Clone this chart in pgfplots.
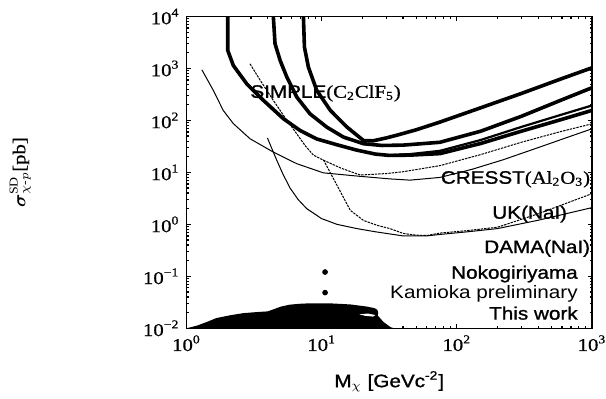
\documentclass[border=0pt]{standalone}
\usepackage{fontspec}
\setmainfont{Liberation Serif}[FakeStretch=1.15]
\setsansfont{Liberation Sans}[FakeStretch=1.15]
\newfontfamily\sbf{Liberation Sans}[FakeStretch=1.15, FakeBold=1.2]
\newfontfamily\rbf{Liberation Serif}[FakeStretch=1.15, FakeBold=0.8]
\usepackage{amsmath}
\usepackage{pgfplots}
\pgfplotsset{compat=1.18}
\begin{document}
\begin{tikzpicture}
\path[use as bounding box] (-93.25pt,-34.85pt) rectangle (209.75pt,164.15pt);
\begin{axis}[
  at={(0pt,0pt)}, anchor=south west,
  scale only axis, width=202.75pt, height=155.9pt,
  xmode=log, ymode=log, xmin=1, xmax=1000, ymin=0.01, ymax=10000,
  tick align=inside, major tick length=2.2pt, minor tick length=1.1pt,
  axis line style={line width=0.8pt},
  every tick/.style={line width=0.6pt, black},
  xtick={1,10,100,1000},
  xticklabels={10\textsuperscript{0},10\textsuperscript{1},10\textsuperscript{2},10\textsuperscript{3}},
  ytick={0.01,0.1,1,10,100,1000,10000},
  yticklabels={10\textsuperscript{−2},10\textsuperscript{−1},10\textsuperscript{0},10\textsuperscript{1},10\textsuperscript{2},10\textsuperscript{3},10\textsuperscript{4}},
  ticklabel style={font=\fontsize{9}{10}\selectfont\rbf},
  xlabel={\sbf M$_\chi$ [GeVc\textsuperscript{-2}]},
  ylabel={$\boldsymbol{\sigma}^{\mathrm{SD}}_{\chi\text{-}p}${\rbf [pb]}},
  label style={font=\fontsize{9}{10}\selectfont},
  xlabel style={at={(axis description cs:0.5,-0.17)}, anchor=center},
  ylabel style={at={(axis description cs:-0.41,0.5)}, anchor=center},
  clip=true,
]
% thin solid curve
\addplot[black, line width=0.5pt] coordinates {
(1.3,943) (1.58,378) (1.87,156) (2.22,87) (2.95,44.5) (4.39,24.6) (6.55,14.7)
(10.3,9.8) (19.3,8.4) (32,7.5) (45,7.1) (75,8.0) (130,11.5) (220,17.5) (400,30) (700,50) (1000,69)};
% thin dotted curve
\addplot[black, line width=0.5pt, dash pattern=on 1.2pt off 0.5pt] coordinates {
(2.95,1230) (3.5,600) (4.39,243) (5.4,110) (6.55,55) (7.6,32) (8.7,21.5) (10.3,17.2)
(14,12) (19.3,8.9) (30,9.5) (40,10.3) (75,13.5) (150,22) (300,38) (600,62) (1000,86)};
% UK (NaI) dotted
\addplot[black, line width=0.5pt, dash pattern=on 1.2pt off 0.5pt] coordinates {
(10.3,17.5) (16.3,1.86) (20.4,1.19) (26,0.95) (32,0.83) (40,0.67) (50,0.62) (60,0.61)
(75,0.68) (120,0.76) (200,0.88) (400,1.6) (1000,3.9)};
% DAMA (NaI) solid
\addplot[black, line width=0.5pt] coordinates {
(3.97,46) (4.3,28) (4.66,17) (5.2,9) (5.84,5.0) (6.7,3.0) (7.77,2.0) (10,1.29) (13,1.0)
(18.2,0.83) (25,0.72) (40,0.6) (60,0.6) (75,0.64) (120,0.72) (200,0.83) (400,1.2) (1000,2.1)};
% SIMPLE curves
\addplot[black, line width=1.8pt, line join=round] coordinates {
(2.02,10000) (2.02,2220) (2.22,1143) (2.79,507) (3.71,243) (5.21,108) (6.93,64) (9.2,44)
(13,34) (18,27) (25,22.5) (32,21.2) (45,21.5) (75,23) (150,36) (300,62) (600,105) (1000,156)};
\addplot[black, line width=1.1pt, line join=round] coordinates {
(32,21.6) (45,22.5) (75,26) (150,42) (300,75) (600,130) (1000,194)};
\addplot[black, line width=1.8pt, line join=round] coordinates {
(4.39,10000) (4.52,2985) (4.93,1426) (5.53,680) (6.55,281) (8.2,134) (10.9,74.5) (14.5,47.8)
(20.4,35.6) (28,33) (40,33.5) (75,38) (150,62) (300,120) (600,250) (1000,426)};
\addplot[black, line width=1.8pt, line join=round] coordinates {
(7.33,10000) (7.46,2570) (7.98,1060) (9.2,378) (11.6,156) (15.4,74.5) (20.4,41) (24,40.5)
(30,46) (36,52) (50,66) (75,93) (150,175) (300,330) (600,640) (1000,1030)};
% This work (filled region)
\addplot[fill=black, draw=none] coordinates {
(1,0.01) (1.2,0.0113) (1.41,0.0132) (1.67,0.0158) (2.1,0.0178) (2.64,0.0196) (3.3,0.0205)
(4.0,0.0212) (4.4,0.0232) (5,0.0262) (5.8,0.0285) (6.8,0.0296) (8,0.0302) (11.6,0.0302)
(16.3,0.0288) (21.6,0.0262) (24.5,0.0245) (25.8,0.0228) (26.2,0.02) (26,0.0175) (26.6,0.0165)
(28.7,0.0132) (32.2,0.0106) (34.2,0.01)};
\addplot[fill=white, draw=none] coordinates {
(19,0.0186) (22,0.0192) (25,0.018) (24,0.0168) (21,0.0174)};
% Nokogiriyama and Kamioka points
\addplot[only marks, mark=*, mark size=1.2pt, black] coordinates {(10.6,0.121) (10.6,0.0486)};
% labels
\node[anchor=base west, inner sep=0pt, font=\fontsize{9}{10}\selectfont] at (axis cs:2.95,273)
  {\sbf SIMPLE\rbf(C\textsubscript{2}ClF\textsubscript{5})};
\node[anchor=base east, inner sep=0pt, font=\fontsize{9}{10}\selectfont] at (axis cs:975,6.06)
  {\sbf CRESST\rbf(Al\textsubscript{2}O\textsubscript{3})};
\node[anchor=base east, inner sep=0pt, font=\fontsize{9}{10}\selectfont\sbf] at (axis cs:659,1.285) {UK(NaI)};
\node[anchor=base east, inner sep=0pt, font=\fontsize{9}{10}\selectfont\sbf] at (axis cs:975,0.281) {DAMA(NaI)};
\node[anchor=base east, inner sep=0pt, font=\fontsize{9}{10}\selectfont\sbf] at (axis cs:790,0.0901) {Nokogiriyama};
\node[anchor=base east, inner sep=0pt, font=\fontsize{9}{10}\selectfont\sffamily] at (axis cs:790,0.0372) {Kamioka preliminary};
\node[anchor=base east, inner sep=0pt, font=\fontsize{9}{10}\selectfont\sbf] at (axis cs:790,0.01469) {This work};
\end{axis}
\end{tikzpicture}
\end{document}
